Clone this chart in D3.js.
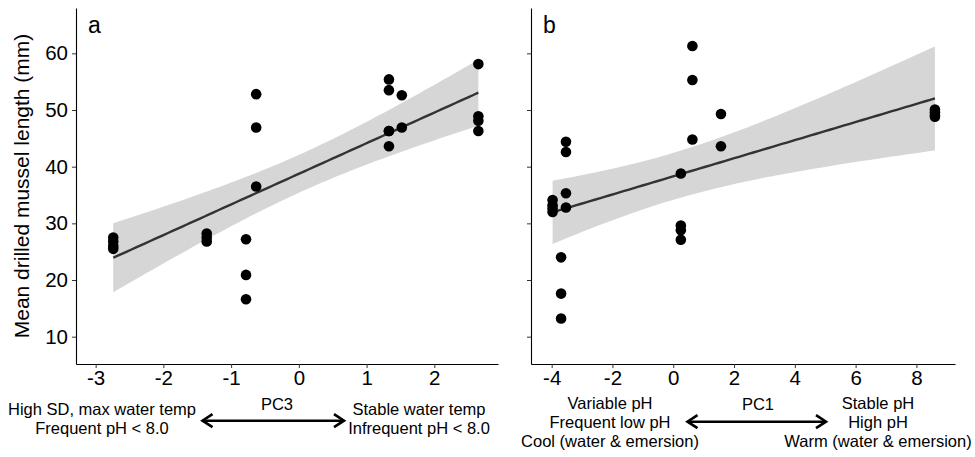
<!DOCTYPE html>
<html>
<head>
<meta charset="utf-8">
<script src="https://cdn.jsdelivr.net/npm/d3@7"></script>
<style>
  body { margin: 0; background: #fff; }
  svg { font-family: 'Liberation Sans', Arial, Helvetica, sans-serif; }
</style>
</head>
<body>
<svg id="chart" width="975" height="457"></svg>
<script>
// panel a: PC3 scores vs mean drilled mussel length
const pc3 = [-2.74, -2.74, -2.74, -2.74, -1.36, -1.36, -1.36, -0.78, -0.78, -0.78,
  -0.63, -0.63, -0.63, 1.33, 1.33, 1.33, 1.33, 1.33, 1.52, 1.52, 2.65, 2.65, 2.65, 2.65]
const lengthA = [27.5, 26.8, 26.0, 25.5, 28.2, 27.5, 26.8, 27.2, 20.9, 16.6,
  52.8, 46.9, 36.5, 55.4, 53.5, 46.3, 46.3, 43.6, 52.6, 46.9, 58.1, 48.9, 48.1, 46.3]

// panel b: PC1 scores
const pc1 = [-3.97, -3.97, -3.97, -3.97, -3.69, -3.69, -3.69, -3.53, -3.53, -3.53, -3.53,
  0.25, 0.25, 0.25, 0.25, 0.63, 0.63, 0.63, 1.57, 1.57, 8.61, 8.61, 8.61, 8.61]
const lengthB = [34.1, 33.2, 32.6, 32.0, 24.0, 17.6, 13.2, 44.4, 42.6, 35.3, 32.8,
  38.8, 29.6, 28.8, 27.1, 61.3, 55.3, 44.8, 49.3, 43.6, 50.1, 49.6, 49.1, 48.8]

const yTicks = [10, 20, 30, 40, 50, 60]
const xTicksA = [-3, -2, -1, 0, 1, 2]
const xTicksB = [-4, -2, 0, 2, 4, 6, 8]

const labelsA = { tag: 'a', pc: 'PC3', left: ['High SD, max water temp', 'Frequent pH < 8.0'], right: ['Stable water temp', 'Infrequent pH < 8.0'] }
const labelsB = { tag: 'b', pc: 'PC1', left: ['Variable pH', 'Frequent low pH', 'Cool (water & emersion)'], right: ['Stable pH', 'High pH', 'Warm (water & emersion)'] }

const tCrit = 2.074 // t(0.975, df = 22)

const svg = d3.select('#chart')
const plotTop = 8
const plotBottom = 364

const y = d3.scaleLinear().domain([5.18, 68]).range([plotBottom, plotTop])

// plain linear model with 95% confidence band, like geom_smooth(method = 'lm')
const fitLm = (xs, ys) => {
  const n = xs.length
  const mx = d3.mean(xs)
  const my = d3.mean(ys)
  const sxx = d3.sum(xs, v => (v - mx) ** 2)
  const sxy = d3.sum(xs, (v, i) => (v - mx) * (ys[i] - my))
  const b = sxy / sxx
  const a = my - b * mx
  const sse = d3.sum(xs, (v, i) => (ys[i] - a - b * v) ** 2)
  const s = Math.sqrt(sse / (n - 2))
  const [lo, hi] = d3.extent(xs)
  const grid = d3.range(0, 81).map(i => lo + (hi - lo) * i / 80)
  return grid.map(gx => {
    const fit = a + b * gx
    const se = s * Math.sqrt(1 / n + (gx - mx) ** 2 / sxx)
    return { x: gx, fit: fit, lo: fit - tCrit * se, hi: fit + tCrit * se }
  })
}

const drawPanel = (xs, ys, xDomain, xRange, xTicks, labels, showYLabels) => {
  const x = d3.scaleLinear().domain(xDomain).range(xRange)
  const g = svg.append('g')
  const pred = fitLm(xs, ys)

  g.append('path')
    .datum(pred)
    .attr('fill', '#d6d6d6')
    .attr('d', d3.area().x(d => x(d.x)).y0(d => y(d.lo)).y1(d => y(d.hi)))

  g.append('path')
    .datum(pred)
    .attr('fill', 'none')
    .attr('stroke', '#333333')
    .attr('stroke-width', 2.4)
    .attr('d', d3.line().x(d => x(d.x)).y(d => y(d.fit)))

  g.selectAll('circle')
    .data(xs)
    .enter().append('circle')
    .attr('cx', d => x(d))
    .attr('cy', (d, i) => y(ys[i]))
    .attr('r', 5.3)
    .attr('fill', '#000')

  // axes
  const xAxis = g.append('g')
    .attr('transform', `translate(0,${plotBottom})`)
    .call(d3.axisBottom(x).tickValues(xTicks).tickSize(4).tickSizeOuter(0))
  xAxis.select('.domain').attr('stroke', '#000').attr('stroke-width', 1.1)
  xAxis.selectAll('.tick line').attr('stroke', '#333')
  xAxis.selectAll('text')
    .attr('font-size', 20.5)
    .attr('fill', '#000')
    .attr('y', 6)
    .attr('dy', '0.75em')
    .text(d => d < 0 ? '-' + Math.abs(d) : d)

  const yAxis = g.append('g')
    .attr('transform', `translate(${xRange[0]},0)`)
    .call(d3.axisLeft(y).tickValues(yTicks).tickSize(4).tickSizeOuter(0))
  yAxis.select('.domain').attr('stroke', '#000').attr('stroke-width', 1.1)
  yAxis.selectAll('.tick line').attr('stroke', '#333')
  yAxis.selectAll('text')
    .attr('font-size', 20.5)
    .attr('fill', '#000')
    .attr('x', -8)
  if (!showYLabels) yAxis.selectAll('text').remove()

  g.append('text')
    .attr('x', xRange[0] + 12)
    .attr('y', 33)
    .attr('font-size', 23)
    .text(labels.tag)

  return x
}

drawPanel(pc3, lengthA, [-3.29, 2.94], [76, 498], xTicksA, labelsA, true)
drawPanel(pc1, lengthB, [-4.68, 9.27], [531, 955], xTicksB, labelsB, false)

svg.append('text')
  .attr('transform', 'translate(29,186) rotate(-90)')
  .attr('text-anchor', 'middle')
  .attr('font-size', 21)
  .text('Mean drilled mussel length (mm)')

// PC direction annotations under each panel
const drawArrow = (x0, x1, yy) => {
  const g = svg.append('g').attr('stroke', '#000').attr('stroke-width', 2.6).attr('fill', 'none')
  g.append('line').attr('x1', x0 + 1).attr('x2', x1 - 1).attr('y1', yy).attr('y2', yy)
  g.append('path').attr('d', `M${x0 + 11},${yy - 6.5}L${x0 + 1},${yy}L${x0 + 11},${yy + 6.5}`)
  g.append('path').attr('d', `M${x1 - 11},${yy - 6.5}L${x1 - 1},${yy}L${x1 - 11},${yy + 6.5}`)
}

const drawNotes = (labels, leftX, rightX, pcX, arrowX0, arrowX1, arrowY, firstBase) => {
  svg.append('text').attr('x', pcX).attr('y', 410).attr('text-anchor', 'middle').attr('font-size', 16.5).text(labels.pc)
  drawArrow(arrowX0, arrowX1, arrowY)
  labels.left.forEach((t, i) => {
    svg.append('text').attr('x', leftX).attr('y', firstBase + i * 18.8).attr('text-anchor', 'middle').attr('font-size', 16.5).text(t)
  })
  labels.right.forEach((t, i) => {
    svg.append('text').attr('x', rightX).attr('y', firstBase + i * 18.8).attr('text-anchor', 'middle').attr('font-size', 16.5).text(t)
  })
}

drawNotes(labelsA, 102, 419, 277, 201.5, 345, 420.7, 415)
drawNotes(labelsB, 610, 878, 758, 686.5, 827, 421.7, 409)
</script>
</body>
</html>
